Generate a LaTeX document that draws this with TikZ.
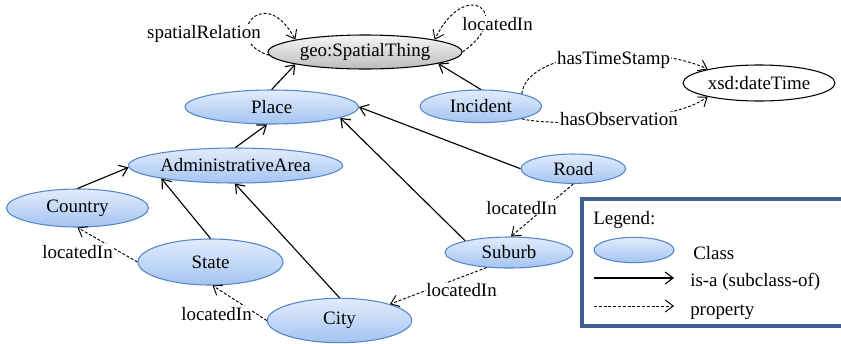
\documentclass[tikz,border=0pt]{standalone}
\usepackage{fontspec}
\setmainfont{Liberation Serif}
\usetikzlibrary{shapes.geometric,arrows.meta}
\definecolor{clstop}{RGB}{226,236,252}
\definecolor{clsbot}{RGB}{164,196,242}
\definecolor{clsline}{RGB}{84,134,200}
\definecolor{geotop}{RGB}{246,246,246}
\definecolor{geobot}{RGB}{188,188,188}
\definecolor{legline}{RGB}{62,96,145}
\begin{document}
\begin{tikzpicture}[x=0.75pt,y=-0.75pt,
  font=\fontsize{14.2}{17}\selectfont,
  ell/.style 2 args={ellipse,inner sep=0pt,minimum width=#1*1.5pt,minimum height=#2*1.5pt},
  cls/.style={draw=clsline,line width=0.8pt,top color=clstop,bottom color=clsbot},
  geoc/.style={draw=black,line width=0.8pt,top color=geotop,bottom color=geobot},
  lit/.style={draw=black,line width=0.8pt,fill=white},
  isa/.style={-{Straight Barb[length=6pt,width=9pt]},line width=0.85pt},
  prop/.style={-{Straight Barb[length=6pt,width=9pt]},line width=0.7pt,dash pattern=on 2.2pt off 1.4pt},
  lbl/.style={fill=white,inner sep=0.5pt,anchor=base},
  legtxt/.style={inner sep=0pt,anchor=base west},
]
\useasboundingbox (0,0) rectangle (841,343);
\clip (0,0) rectangle (841,343);

% classes
\node[ell={97}{17},geoc] (geo) at (365,52) {geo:SpatialThing};
\node[ell={86.7}{17},cls] (place) at (271.7,107) {Place};
\node[ell={60.8}{16.3},cls] (incident) at (480.8,106.3) {Incident};
\node[ell={76}{18},lit] (xsd) at (759,83) {xsd:dateTime};
\node[ell={107}{17.5},cls] (admin) at (235.5,165.5) {AdministrativeArea};
\node[ell={71}{19},cls] (country) at (77.5,208) {Country};
\node[ell={72.5}{23},cls] (state) at (210.5,262) {State};
\node[ell={72.2}{22.2},cls] (city) at (339.5,320.5) {City};
\node[ell={52.3}{14.7},cls] (road) at (573.3,168.7) {Road};
\node[ell={64}{15.5},cls] (suburb) at (509,252.5) {Suburb};

% is-a edges
\draw[isa] (place.north) -- (geo.190);
\draw[isa] (incident.north) -- (geo.-9);
\draw[isa] (admin.north) -- (place.255);
\draw[isa] (country.north) -- (admin.181);
\draw[isa] (state.north) -- (admin.190);
\draw[isa] (city.north) -- (admin.268);
\draw[isa] (suburb.165) -- (place.-9);
\draw[isa] (road.west) -- (place.east);

% property edges
\draw[prop] (road.south) -- (suburb.83);
\draw[prop] (suburb.214) -- (city.18);
\draw[prop] (state.west) -- (country.south);
\draw[prop] (city.west) -- (state.-85);
\draw[prop] (geo.182) .. controls +(-50,-15) and +(-32,-60) .. (geo.170);
\draw[prop] (geo.east) .. controls +(53,-37) and +(32,-65) .. (geo.10);
\draw[prop] (incident.17) .. controls +(6,-48) and +(-49,-24) .. (xsd.165);
\draw[prop] (incident.-17) .. controls +(27,7) and +(-39,28) .. (xsd.195);

% edge labels
\node[lbl] (l1) at (204,38) {spatialRelation};
\node[lbl] (l2) at (497.5,30) {locatedIn};
\node[lbl] (l3) at (613.5,64) {hasTimeStamp};
\node[lbl] (l4) at (619,125.5) {hasObservation};
\node[lbl] (l5) at (521.5,214) {locatedIn};
\node[lbl] (l6) at (461.5,296.5) {locatedIn};
\node[lbl] (l7) at (77.5,258) {locatedIn};
\node[lbl] (l8) at (216.5,320) {locatedIn};

% legend
\draw[legline,line width=2.4pt] (582,199) rectangle (870,326);
\node[legtxt] (legtitle) at (593,224) {Legend:};
\node[ell={40}{12.7},cls] (legcls) at (634,250) {};
\node[legtxt] (legclass) at (693,259) {Class};
\coordinate (isaA) at (594,278);
\coordinate (isaB) at (674,278);
\draw[isa] (isaA) -- (isaB);
\node[legtxt] (legisa) at (690,286) {is-a (subclass-of)};
\coordinate (propA) at (594,306);
\coordinate (propB) at (674,306);
\draw[prop] (propA) -- (propB);
\node[legtxt] (legprop) at (690,315) {property};
\end{tikzpicture}
\end{document}
